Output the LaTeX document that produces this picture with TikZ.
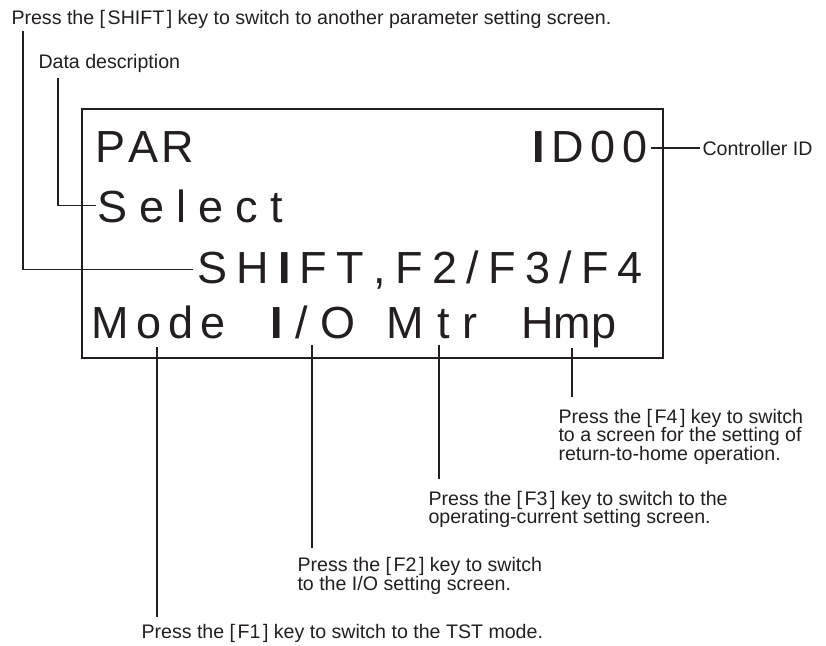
\documentclass[tikz,border=0pt]{standalone}
\usepackage{fontspec}
\setmainfont{Liberation Sans}
\definecolor{ink}{HTML}{231F20}
\makeatletter
% letter-spaced word: \trk{<kern>}{<chars>}
\def\trk#1#2{\def\trk@k{#1}\trk@a#2\relax}
\def\trk@a#1{\ifx\relax#1\else#1\kern\trk@k\expandafter\trk@a\fi}
\makeatother
\newcommand\lcdI{{\bfseries I}}
\newcommand\keyname[1]{[\kern2.5pt#1\kern2.5pt]}
\begin{document}
\begin{tikzpicture}[x=1pt,y=-1pt,
  every node/.style={inner sep=0pt,outer sep=0pt},
  txt/.style={font=\fontsize{19.6}{18.7}\selectfont, text=ink, align=left},
  lcdtxt/.style={font=\fontsize{45}{45}\selectfont, text=ink, anchor=base west},
  lead/.style={draw=ink, line width=1.1pt},
  lcdbox/.style={draw=ink, line width=2.4pt}]
\useasboundingbox (0,0) rectangle (826,645);
% top labels
\node[txt, anchor=base west] (shifttxt) at (11.5,24.5) {Press the \keyname{SHIFT} key to switch to another parameter setting screen.};
\node[txt, anchor=base west] (datatxt) at (38.5,68.5) {Data description};
% display box
\node[lcdbox, minimum width=581pt, minimum height=249pt, anchor=north west] (screen) at (82,109) {};
% display rows
\node[lcdtxt] (par) at (95.5,162) {\trk{3pt}{PAR}};
\node[lcdtxt] (id) at (532,162) {\trk{6.7pt}{\lcdI D00}};
\node[lcdtxt] (sel) at (97,222) {\trk{12.2pt}{Select}};
\node[lcdtxt] (shift) at (197,283) {\trk{9.3pt}{SH\lcdI FT,F2/F3/F4}};
\node[lcdtxt] (mode) at (91.7,338) {\trk{7pt}{Mode}};
\node[lcdtxt] (io) at (270,338) {\trk{13pt}{\lcdI/O}};
\node[lcdtxt] (mtr) at (386.7,338) {\trk{13pt}{Mtr}};
\node[lcdtxt] (hmp) at (521.4,338) {Hmp};
% right label
\node[txt, anchor=west] (ctrl) at (702.5,148) {Controller ID};
% bottom labels
\node[txt, anchor=north west] (f1) at (141.5,624.5) {Press the \keyname{F1} key to switch to the TST mode.};
\node[txt, anchor=north west] (f2) at (297.5,557.5) {Press the \keyname{F2} key to switch\\to the I/O setting screen.};
\node[txt, anchor=north west] (f3) at (428.5,491) {Press the \keyname{F3} key to switch to the\\operating-current setting screen.};
\node[txt, anchor=north west] (f4) at (558.5,409) {Press the \keyname{F4} key to switch\\to a screen for the setting of\\return-to-home operation.};
% leader start points
\coordinate (sA) at (23,31);
\coordinate (dA) at (58,78);
\coordinate (k1) at (157,347);
\coordinate (k2) at (312,345);
\coordinate (k3) at (439,345);
\coordinate (k4) at (572,348);
% leaders
\draw[lead] (sA) |- ([xshift=-4pt]shift.west);
\draw[lead] (dA) |- ([xshift=-1pt]sel.west);
\draw[lead] ([xshift=-3pt]id.east |- ctrl.west) -- ([xshift=-3pt]ctrl.west);
\draw[lead] (k1) -- ([yshift=7.5pt]f1.north -| k1);
\draw[lead] (k2) -- ([yshift=9.5pt]f2.north -| k2);
\draw[lead] (k3) -- ([yshift=12pt]f3.north -| k3);
\draw[lead] (k4) -- ([yshift=12pt]f4.north -| k4);
\end{tikzpicture}
\end{document}
